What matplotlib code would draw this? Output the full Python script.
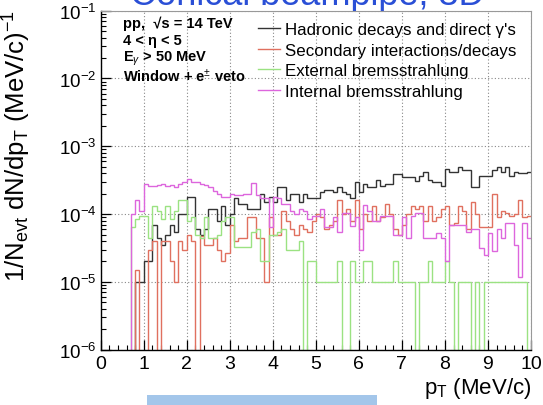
import numpy as np
import matplotlib
matplotlib.use("Agg")
import matplotlib.pyplot as plt
from matplotlib.patches import Rectangle
from matplotlib.ticker import LogLocator, MultipleLocator, NullFormatter

plt.rcParams['font.family'] = ['Liberation Sans', 'DejaVu Sans']
plt.rcParams['mathtext.fontset'] = 'custom'
plt.rcParams['mathtext.rm'] = 'Liberation Sans'
plt.rcParams['mathtext.it'] = 'Liberation Sans:italic'
plt.rcParams['mathtext.bf'] = 'Liberation Sans:bold'

# ---- data (values in units of 1e-5 per bin, 100 bins of 0.1 MeV/c) ----
bin_edges = np.linspace(0, 10, 101)
unit = 1e-5

hadronic = [0, 0, 0, 0, 0, 0, 0, 0, 1, 1,
            2, 2, 7, 4.5, 3.5, 5, 7, 5.5, 10, 10,
            18, 18, 6, 5, 6, 12, 12, 8, 13, 7,
            10, 17, 14, 14, 12, 12, 12, 20, 15, 18,
            15, 25, 25, 16, 20, 20, 15, 20, 17, 17,
            17, 21, 23, 23, 21, 25, 21, 20, 17, 30,
            21, 28, 25, 25, 32, 26, 28, 28, 39, 39,
            35, 35, 35, 31, 37, 42, 32, 30, 30, 26,
            46, 42, 42, 49, 44, 44, 25, 25, 37, 37,
            37, 44, 49, 42, 50, 37, 42, 40, 40, 42]

secondary = [0, 0, 0, 0, 0, 0, 0, 0, 1.5, 0,
             0, 3, 4, 0, 4, 4, 2, 1, 4, 3,
             5, 4, 0, 4.7, 3.5, 3.5, 4.5, 3, 2, 2.7,
             7, 4, 4.5, 4.5, 9, 9, 4.5, 4.5, 1, 9,
             5, 5, 11, 8, 6, 5, 7, 6, 5.5, 8,
             10, 9, 6, 7, 8, 16, 10, 12, 8, 16,
             6, 10, 8, 13, 8, 9, 14, 10, 6, 5,
             7, 10, 13, 12, 13, 8, 13, 8, 9, 12,
             13, 7, 7.5, 13, 11, 6, 15, 10, 6.5, 6.5,
             6.5, 20, 9, 11, 10.5, 9.5, 10, 16, 9, 9.5]

external = [0, 0, 0, 0, 0, 0, 0, 6.5, 8.5, 9.5,
            9.5, 4.5, 13, 11, 8.5, 13, 8.5, 11, 16, 16,
            8, 9, 5, 4.5, 9, 4.5, 4.5, 5, 8, 9,
            9, 3.3, 3.3, 3.3, 3.3, 5.5, 6, 2, 2, 5,
            5, 5.5, 6, 3, 3, 3, 4, 0, 2, 2,
            1, 1, 1, 1, 1, 2, 0, 0, 2, 1,
            1, 2, 2, 1, 1, 1, 1, 1, 2, 1,
            1, 1, 1, 0, 1, 1, 2, 1, 1, 1,
            2, 1, 0, 1, 1, 1, 0, 1, 0, 1,
            1, 1, 1, 1, 1, 1, 1, 1, 1, 0]

internal = [0, 0, 0, 0, 0, 0, 0, 10, 16, 11,
            28, 26, 26, 27, 28, 26, 27, 25, 28, 30,
            33, 30, 30, 28, 27, 25, 22, 20, 18, 18,
            20, 19, 19, 20, 20, 29, 19, 17, 17, 6.5,
            18, 17, 14, 14, 11, 10, 12, 11, 8.5, 9.5,
            9.5, 12, 6.4, 6.4, 9, 5.4, 10.5, 10.5, 6.7, 9,
            3, 13.5, 11, 8, 8, 9.5, 9.5, 9.5, 5, 5,
            9, 4.5, 9.5, 10.5, 10.5, 4.5, 4.5, 4.5, 5.2, 4.5,
            2, 7, 7, 7, 7, 5.5, 6, 6, 3.2, 2.5,
            5.2, 2.9, 6, 4.5, 7.3, 7.3, 3.5, 1.2, 7.3, 4.5]

series = [
    ("Hadronic decays and direct γ's", hadronic, '#333333'),
    ("Secondary interactions/decays", secondary, '#e0705f'),
    ("External bremsstrahlung", external, '#9be282'),
    ("Internal bremsstrahlung", internal, '#dd66dd'),
]

x_ticks = list(range(0, 11))
y_min, y_max = 1e-6, 1e-1

# ---- figure ----
W, H = 543, 406
fig = plt.figure(figsize=(W / 100, H / 100), dpi=100)
ax = fig.add_axes([100.7 / W, 1 - 350.7 / H, (531 - 100.7) / W, (350.7 - 11.7) / H])

for label, vals, col in series:
    v = np.asarray(vals, dtype=float) * unit
    v_draw = np.where(v > 0, v, y_min * 1e-3)
    ax.stairs(v_draw, bin_edges, baseline=None, color=col, lw=1.0, label=label)

ax.set_yscale('log')
ax.set_xlim(0, 10)
ax.set_ylim(y_min, y_max)
ax.set_xticks(x_ticks)
ax.xaxis.set_minor_locator(MultipleLocator(0.2))
ax.yaxis.set_major_locator(LogLocator(base=10, numticks=10))
ax.yaxis.set_minor_locator(LogLocator(base=10, subs=np.arange(2, 10), numticks=20))
ax.yaxis.set_minor_formatter(NullFormatter())
ax.tick_params(which='both', direction='in', top=False, right=False)
ax.tick_params(axis='x', labelsize=14, pad=4)
ax.tick_params(axis='y', labelsize=13.5, pad=3)
ax.tick_params(which='major', length=7, width=0.9)
ax.tick_params(which='minor', length=3.5, width=0.8)
ax.grid(True, which='major', linestyle=(0, (1, 2)), color='#888888', lw=0.8)
ax.set_axisbelow(True)
for s in ['top', 'right']:
    ax.spines[s].set_color('#999999')
    ax.spines[s].set_linewidth(0.8)
for s in ['left', 'bottom']:
    ax.spines[s].set_linewidth(1.0)

# legend
leg = ax.legend(loc='upper left', bbox_to_anchor=((258 - 100.7) / 430.3, 0.966), frameon=False,
                fontsize=12.2, handlelength=1.3, handletextpad=0.3,
                labelspacing=0.33, borderaxespad=0, borderpad=0)

# info text
info = ["pp,  √s = 14 TeV", "4 < η < 5", "E$_{\\gamma}$ > 50 MeV", "Window + e$^{\\pm}$ veto"]
for i, t in enumerate(info):
    fig.text(123 / W, 1 - (24 + i * 17.5) / H, t, fontsize=10.5, fontweight='bold',
             va='center', ha='left')

# axis titles
fig.text(17 / W, 1 - 10 / H, "1/N$_{\\mathregular{evt}}$ dN/dp$_{\\mathregular{T}}$ (MeV/c)$^{-1}$",
         rotation=90, ha='center', va='top', fontsize=18.5)
fig.text(531 / W, 1 - 389 / H, "p$_{\\mathregular{T}}$ (MeV/c)", ha='right', va='center', fontsize=16)

# cropped title: drawn beneath the axes so the plot frame hides its lower part
title = fig.text(130 / W, 1 - 5 / H, "Conical beampipe, 3D", ha='left', va='baseline',
                 fontsize=26, color='#2a4fd6', zorder=-1)
fig.add_artist(Rectangle((147 / W, 0), (377 - 147) / W, 10 / H,
                         transform=fig.transFigure, color='#a3c6ea', lw=0))

fig.savefig('out.png', dpi=100)
